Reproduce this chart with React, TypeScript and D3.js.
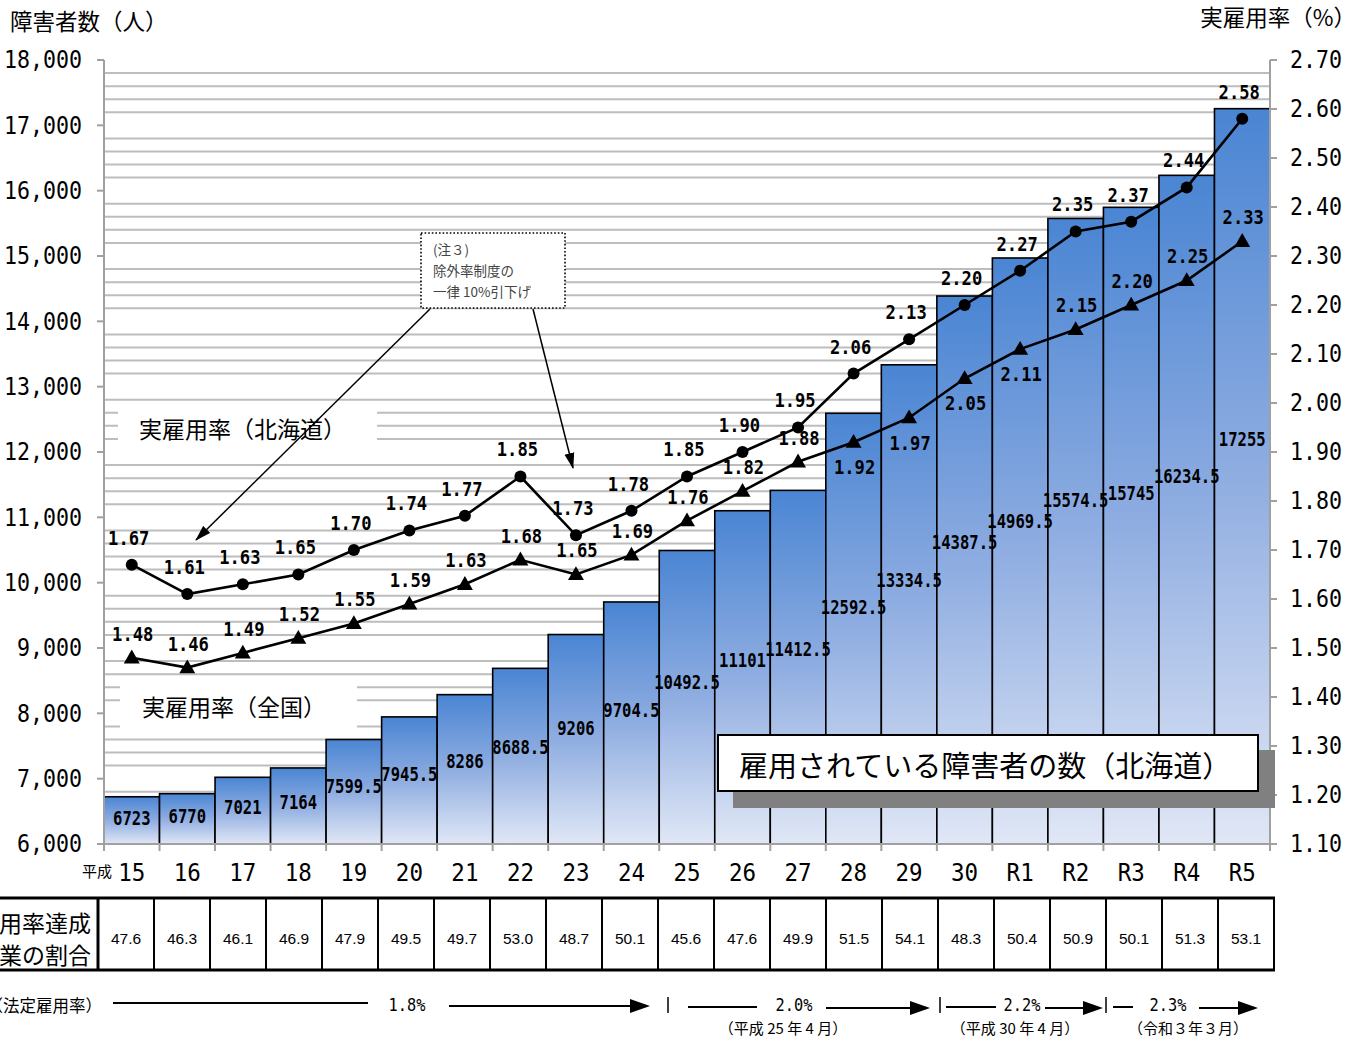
import React from 'react';
import * as d3 from 'd3';

const years = ['15','16','17','18','19','20','21','22','23','24','25','26','27','28','29','30','R1','R2','R3','R4','R5'];
const employed = [6723, 6770, 7021, 7164, 7599.5, 7945.5, 8286, 8688.5, 9206, 9704.5, 10492.5, 11101, 11412.5, 12592.5, 13334.5, 14387.5, 14969.5, 15574.5, 15745, 16234.5, 17255];
const rateHokkaido = [1.67, 1.61, 1.63, 1.65, 1.70, 1.74, 1.77, 1.85, 1.73, 1.78, 1.85, 1.90, 1.95, 2.06, 2.13, 2.20, 2.27, 2.35, 2.37, 2.44, 2.58];
const rateNational = [1.48, 1.46, 1.49, 1.52, 1.55, 1.59, 1.63, 1.68, 1.65, 1.69, 1.76, 1.82, 1.88, 1.92, 1.97, 2.05, 2.11, 2.15, 2.20, 2.25, 2.33];
const achieveShare = ['47.6','46.3','46.1','46.9','47.9','49.5','49.7','53.0','48.7','50.1','45.6','47.6','49.9','51.5','54.1','48.3','50.4','50.9','50.1','51.3','53.1'];
const leftTicks = [6000, 7000, 8000, 9000, 10000, 11000, 12000, 13000, 14000, 15000, 16000, 17000, 18000];
const rightTicks = [1.1, 1.2, 1.3, 1.4, 1.5, 1.6, 1.7, 1.8, 1.9, 2.0, 2.1, 2.2, 2.3, 2.4, 2.5, 2.6, 2.7];
const nationalLabelBelow = ['28', '29', '30', 'R1'];

const JP = '"Noto Sans CJK JP", "Noto Sans", sans-serif';
const MONO = '"DejaVu Sans Mono", monospace';

function Num({ x, y, text, size, anchor = 'middle', bold = false, sx = 0.88 }: any) {
  return (
    <text transform={`translate(${x},${y}) scale(${sx},1)`} fontFamily={MONO} fontSize={size}
      fontWeight={bold ? 'bold' : 'normal'} textAnchor={anchor} dominantBaseline="central" fill="#000">{text}</text>
  );
}

function Arrow({ x1, x2, y }: any) {
  return (
    <g>
      <line x1={x1} y1={y} x2={x2 - 16} y2={y} stroke="#000" strokeWidth={2} />
      <path d={`M${x2 - 20},${y - 7} L${x2},${y} L${x2 - 20},${y + 7} Z`} fill="#000" />
    </g>
  );
}

export default function App() {
  const x = d3.scaleBand<string>().domain(years).range([104, 1270]).padding(0);
  const yL = d3.scaleLinear().domain([6000, 18000]).range([844, 60]);
  const yR = d3.scaleLinear().domain([1.1, 2.7]).range([844, 60]);
  const tx = d3.scaleBand<string>().domain(years).range([98, 1274]).padding(0);
  const cx = (d: string) => (x(d) as number) + x.bandwidth() / 2;

  const grid = d3.range(6200, 18000, 200).filter(v => v % 1000 !== 0);
  const lineH = d3.line<number>().x((_, i) => cx(years[i])).y(v => yR(v));
  const tri = d3.symbol().type(d3.symbolTriangle).size(110)();

  return (
    <div style={{ position: 'absolute', left: 0, top: 0 }}>
      <svg width={1368} height={1039} style={{ display: 'block' }}>
        <defs>
          <linearGradient id="barGrad" x1="0" y1="0" x2="0" y2="1">
            <stop offset="0" stopColor="#4a85d3" />
            <stop offset="0.5" stopColor="#8fade1" />
            <stop offset="1" stopColor="#e0e7f6" />
          </linearGradient>
          <marker id="ah2" viewBox="0 0 16 10" refX="15" refY="5" markerWidth="16" markerHeight="11" orient="auto" markerUnits="userSpaceOnUse">
            <path d="M0,0 L16,5 L0,10 Z" fill="#000" />
          </marker>
        </defs>
        <rect width={1368} height={1039} fill="#fff" />

        {/* axis titles */}
        <text x={10} y={20} fontFamily={JP} fontSize={22.5} dominantBaseline="central">障害者数（人）</text>
        <text x={1356} y={16} fontFamily={JP} fontSize={22.5} textAnchor="end" dominantBaseline="central">実雇用率（%）</text>

        {/* gridlines */}
        {grid.map(v => (
          <line key={v} x1={105} x2={1269} y1={yL(v)} y2={yL(v)} stroke="#bdbdbd" strokeWidth={2} />
        ))}

        {/* legend label boxes */}
        <rect x={118} y={405} width={259} height={45} fill="#fff" />
        <text x={139} y={428} fontFamily={JP} fontSize={23} dominantBaseline="central">実雇用率（北海道）</text>
        <rect x={120} y={681} width={237} height={50} fill="#fff" />
        <text x={142} y={706} fontFamily={JP} fontSize={23} dominantBaseline="central">実雇用率（全国）</text>

        {/* bars */}
        {employed.map((v, i) => (
          <rect key={i} x={x(years[i])} y={yL(v)} width={x.bandwidth()} height={844 - yL(v)}
            fill="url(#barGrad)" stroke="#000" strokeWidth={1.6} />
        ))}
        {employed.map((v, i) => (
          <Num key={i} x={cx(years[i])} y={844 - (844 - yL(v)) * 0.55} text={String(v)} size={19} bold sx={0.82} />
        ))}

        {/* axes */}
        <line x1={104} x2={104} y1={60} y2={845} stroke="#a0a0a0" strokeWidth={2} />
        <line x1={1270} x2={1270} y1={60} y2={845} stroke="#a0a0a0" strokeWidth={2} />
        <line x1={103} x2={1271} y1={844} y2={844} stroke="#a0a0a0" strokeWidth={2} />
        {leftTicks.map(v => (
          <g key={v}>
            <line x1={97} x2={104} y1={yL(v)} y2={yL(v)} stroke="#a0a0a0" strokeWidth={2} />
            <Num x={82} y={yL(v)} text={d3.format(',')(v)} size={24} anchor="end" sx={0.9} />
          </g>
        ))}
        {rightTicks.map(v => (
          <g key={v}>
            <line x1={1270} x2={1277} y1={yR(v)} y2={yR(v)} stroke="#a0a0a0" strokeWidth={2} />
            <Num x={1290} y={yR(v)} text={v.toFixed(2)} size={24} anchor="start" sx={0.9} />
          </g>
        ))}
        {years.map(d => (
          <line key={d} x1={x(d)} x2={x(d)} y1={844} y2={851} stroke="#a0a0a0" strokeWidth={2} />
        ))}
        <line x1={1270} x2={1270} y1={844} y2={851} stroke="#a0a0a0" strokeWidth={2} />
        {years.map(d => (
          <Num key={d} x={cx(d)} y={873} text={d} size={25} sx={0.9} />
        ))}
        <text x={97} y={870} fontFamily={JP} fontSize={15} textAnchor="middle" dominantBaseline="central">平成</text>

        {/* lines */}
        <path d={lineH(rateHokkaido) || ''} fill="none" stroke="#000" strokeWidth={2.6} />
        <path d={lineH(rateNational) || ''} fill="none" stroke="#000" strokeWidth={2.6} />
        {rateHokkaido.map((v, i) => (
          <circle key={i} cx={cx(years[i])} cy={yR(v)} r={6} fill="#000" />
        ))}
        {rateNational.map((v, i) => (
          <path key={i} d={tri || ''} transform={`translate(${cx(years[i])},${yR(v) + 1})`} fill="#000" />
        ))}
        {rateHokkaido.map((v, i) => (
          <Num key={i} x={cx(years[i]) - 3} y={yR(v) - 27} text={v.toFixed(2)} size={19.5} bold sx={0.88} />
        ))}
        {rateNational.map((v, i) => {
          const below = nationalLabelBelow.includes(years[i]);
          return <Num key={i} x={cx(years[i]) + 1} y={yR(v) + (below ? 25 : -24)} text={v.toFixed(2)} size={19.5} bold sx={0.88} />;
        })}

        {/* annotation */}
        <line x1={430} y1={309} x2={196} y2={540} stroke="#000" strokeWidth={1.5} markerEnd="url(#ah2)" />
        <line x1={533} y1={309} x2={573} y2={468} stroke="#000" strokeWidth={1.5} markerEnd="url(#ah2)" />
        <rect x={421} y={233} width={144} height={75} fill="#fff" stroke="#000" strokeWidth={1.6} strokeDasharray="1.6 2" />
        <text x={433} y={249} fontFamily={JP} fontSize={13.5} fill="#444" dominantBaseline="central">(注３)</text>
        <text x={433} y={270} fontFamily={JP} fontSize={13.5} fill="#444" dominantBaseline="central">除外率制度の</text>
        <text x={433} y={291} fontFamily={JP} fontSize={13.5} fill="#444" dominantBaseline="central">一律 10%引下げ</text>

        {/* main label box */}
        <rect x={733} y={750} width={542} height={58} fill="#808080" />
        <rect x={718} y={735} width={540} height={56} fill="#fff" stroke="#000" strokeWidth={2} />
        <text x={739} y={764} fontFamily={JP} fontSize={29} dominantBaseline="central">雇用されている障害者の数（北海道）</text>

        {/* table */}
        {years.map((d, i) => (
          <line key={d} x1={tx(d)} x2={tx(d)} y1={898} y2={970} stroke="#000" strokeWidth={i === 0 ? 3 : 2} />
        ))}
        <line x1={1274} x2={1274} y1={898} y2={970} stroke="#000" strokeWidth={2} />
        <line x1={0} x2={1275} y1={898} y2={898} stroke="#000" strokeWidth={3} />
        <line x1={0} x2={1275} y1={970} y2={970} stroke="#000" strokeWidth={3} />
        {achieveShare.map((s, i) => (
          <text key={i} x={(tx(years[i]) as number) + tx.bandwidth() / 2} y={938} fontFamily='"Liberation Sans", Arial, sans-serif'
            fontSize={15.5} textAnchor="middle" dominantBaseline="central">{s}</text>
        ))}
        <text x={91} y={922} fontFamily={JP} fontSize={23} textAnchor="end" dominantBaseline="central">雇用率達成</text>
        <text x={91} y={954} fontFamily={JP} fontSize={23} textAnchor="end" dominantBaseline="central">企業の割合</text>

        {/* legal rate legend */}
        <text x={102} y={1005} fontFamily={JP} fontSize={16.5} textAnchor="end" dominantBaseline="central">（法定雇用率）</text>
        <line x1={113} x2={368} y1={1003} y2={1003} stroke="#000" strokeWidth={2} />
        <Num x={407} y={1005} text="1.8%" size={18} sx={0.85} />
        <Arrow x1={449} x2={650} y={1006} />
        <line x1={668} x2={668} y1={997} y2={1013} stroke="#000" strokeWidth={1.5} />
        <line x1={688} x2={757} y1={1007} y2={1007} stroke="#000" strokeWidth={2} />
        <Num x={794} y={1005} text="2.0%" size={18} sx={0.85} />
        <Arrow x1={826} x2={930} y={1008} />
        <text x={783} y={1027} fontFamily={JP} fontSize={15} textAnchor="middle" dominantBaseline="central">（平成 25 年 4 月）</text>
        <line x1={940} x2={940} y1={997} y2={1013} stroke="#000" strokeWidth={1.5} />
        <line x1={946} x2={996} y1={1007} y2={1007} stroke="#000" strokeWidth={2} />
        <Num x={1022} y={1005} text="2.2%" size={18} sx={0.85} />
        <Arrow x1={1045} x2={1103} y={1008} />
        <line x1={1106} x2={1106} y1={997} y2={1013} stroke="#000" strokeWidth={1.5} />
        <line x1={1113} x2={1133} y1={1007} y2={1007} stroke="#000" strokeWidth={2} />
        <Num x={1168} y={1005} text="2.3%" size={18} sx={0.85} />
        <Arrow x1={1199} x2={1258} y={1008} />
        <text x={1015} y={1027} fontFamily={JP} fontSize={15} textAnchor="middle" dominantBaseline="central">（平成 30 年 4 月）</text>
        <text x={1188} y={1027} fontFamily={JP} fontSize={15} textAnchor="middle" dominantBaseline="central">（令和３年３月）</text>
      </svg>
    </div>
  );
}
